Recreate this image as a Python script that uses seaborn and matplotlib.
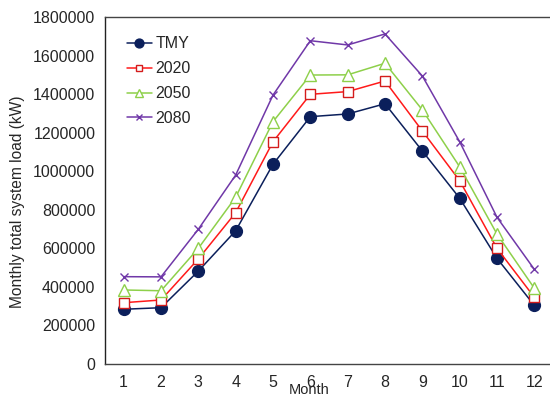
import matplotlib
matplotlib.use("Agg")
import matplotlib.pyplot as plt
import seaborn as sns
import pandas as pd
import numpy as np

months = [1, 2, 3, 4, 5, 6, 7, 8, 9, 10, 11, 12]
tmy = [284000, 292000, 482000, 691000, 1036000, 1283000, 1297000, 1350000, 1105000, 860000, 548000, 304000]
y2020 = [318000, 332000, 545000, 785000, 1153000, 1399000, 1413000, 1468000, 1209000, 951000, 600000, 346000]
y2050 = [384000, 380000, 600000, 865000, 1257000, 1499000, 1500000, 1560000, 1318000, 1023000, 674000, 393000]
y2080 = [453000, 452000, 699000, 980000, 1395000, 1677000, 1655000, 1712000, 1494000, 1153000, 761000, 491000]
series_names = ["TMY", "2020", "2050", "2080"]
y_ticks = [0, 200000, 400000, 600000, 800000, 1000000, 1200000, 1400000, 1600000, 1800000]

sns.set_theme(style="white")
plt.rcParams["font.family"] = ["Liberation Sans", "DejaVu Sans"]

df = pd.DataFrame({
    "Month": months * 4,
    "Load": tmy + y2020 + y2050 + y2080,
    "Scenario": sum([[n] * 12 for n in series_names], []),
})

styles = {
    "TMY": dict(color="#0b1f5b", marker="o", ms=8.5, mfc="#0b1f5b", mec="#0b1f5b", mew=1.0),
    "2020": dict(color="#ff1a1a", marker="s", ms=6.5, mfc="white", mec="#d41c1c", mew=1.0),
    "2050": dict(color="#8ed04a", marker="^", ms=8.5, mfc="white", mec="#8ed04a", mew=1.0),
    "2080": dict(color="#7038a8", marker="x", ms=6.0, mfc="none", mec="#7038a8", mew=1.0),
}

fig = plt.figure(figsize=(5.5, 3.99), dpi=100)
ax = fig.add_axes([105 / 550, 35 / 399, 448 / 550, 347 / 399])

for name in series_names:
    st = styles[name]
    sns.lineplot(data=df[df["Scenario"] == name], x="Month", y="Load", ax=ax,
                 label=name, color=st["color"], marker=st["marker"],
                 markersize=st["ms"], markerfacecolor=st["mfc"],
                 markeredgecolor=st["mec"], markeredgewidth=st["mew"],
                 linewidth=1.1, errorbar=None)

ax.set_xlim(0.5, 12.5)
ax.set_ylim(0, 1800000)
ax.set_yticks(y_ticks)
ax.set_yticklabels([str(v) for v in y_ticks], fontsize=11.5)

# tick marks sit between months; labels sit under each month
ax.set_xticks(np.arange(0.5, 13, 1.0))
ax.set_xticklabels([])
ax.set_xticks(months, minor=True)
ax.set_xticklabels([str(m) for m in months], minor=True, fontsize=11.5)
ax.tick_params(axis="x", which="major", direction="inout", length=9, width=1, color="#444444")
ax.tick_params(axis="x", which="minor", length=0, pad=8)
ax.tick_params(axis="y", direction="inout", length=10, width=1, color="#444444", pad=2)

for side in ["left", "bottom", "top"]:
    ax.spines[side].set_visible(True)
    ax.spines[side].set_color("#444444")
    ax.spines[side].set_linewidth(1.0)
ax.spines["left"].set_color("#222222")
ax.spines["right"].set_visible(False)

ax.set_xlabel("Month", fontsize=10.5)
ax.xaxis.set_label_coords(0.456, -0.056)
ax.set_ylabel("Monthly total system load (kW)", fontsize=11.2)
ax.yaxis.set_label_coords(-0.178, 0.467)

leg = ax.legend(loc="upper left", bbox_to_anchor=(0.027, 0.972), frameon=False,
                fontsize=11.5, handlelength=1.6, handletextpad=0.2,
                labelspacing=0.62, borderaxespad=0.2, markerscale=0.75)

fig.savefig("out.png", dpi=100)
